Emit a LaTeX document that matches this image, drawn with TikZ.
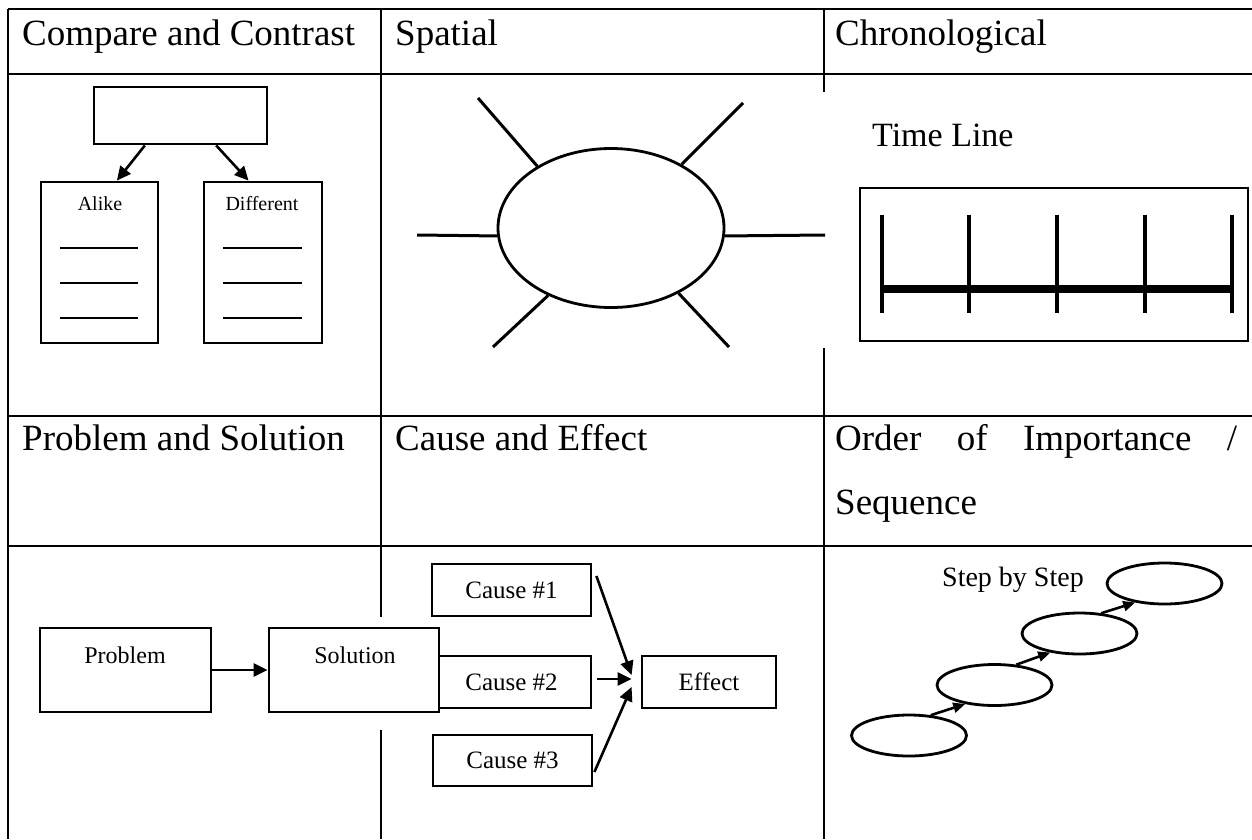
\documentclass[tikz,border=0pt]{standalone}
\usepackage{fontspec}
\setmainfont{Liberation Serif}
\usetikzlibrary{arrows.meta,positioning,shapes.geometric}
\newcommand{\headfont}{\fontsize{37}{64}\selectfont}
\newcommand{\smallfont}[1]{\fontsize{#1}{#1}\selectfont}
\tikzset{
  >={Triangle[length=14pt,width=13pt]},
  grid/.style  ={line width=2.2pt},
  box/.style   ={rectangle, draw, line width=2.8pt, inner sep=0pt},
  oval/.style  ={ellipse, draw, line width=2.8pt, inner sep=0pt},
  head/.style  ={anchor=base west, inner sep=0pt, font=\headfont},
  lbl/.style   ={anchor=base, inner sep=0pt},
  con/.style   ={->, draw, line width=2.6pt},
  stepcon/.style={-{Triangle[length=12pt,width=10pt]}, draw, line width=2.6pt},
  ray/.style   ={draw, line width=3pt},
  rule/.style  ={draw, line width=2.2pt},
}
\begin{document}
\begin{tikzpicture}[x=1pt,y=-1pt]
\useasboundingbox (0,0) rectangle (1252,839);
% table
\draw[grid] (8,9) -- (1252,9);
\draw[grid] (8,74) -- (1252,74);
\draw[grid] (8,416) -- (1252,416);
\draw[grid] (8,546) -- (1252,546);
\draw[grid] (8,9) -- (8,839);
\draw[grid] (381,9) -- (381,617);
\draw[grid] (381,730) -- (381,839);
\draw[grid] (824,9) -- (824,92);
\draw[grid] (824,348) -- (824,839);

\node[head] (hcc) at (22,45)   {Compare and Contrast};
\node[head] (hsp) at (395,45)  {Spatial};
\node[head] (hch) at (835,45)  {Chronological};
\node[head] (hps) at (22,450)  {Problem and Solution};
\node[head] (hce) at (395,450) {Cause and Effect};
\node[head] (hoi) at (835,450) {\makebox[402pt][s]{Order of Importance /}};
\node[head] (hsq) at (835,514) {Sequence};

% compare and contrast
\node[box, minimum width=173pt, minimum height=57pt]  (top)   at (180.5,115.5) {};
\node[box, minimum width=117pt, minimum height=161pt] (alike) at (99.5,262.5) {};
\node[box, minimum width=118pt, minimum height=161pt] (diff)  at (263,262.5) {};
\node[lbl, font=\smallfont{20}] (talike) at (100,210) {Alike};
\node[lbl, font=\smallfont{20}] (tdiff)  at (262,210) {Different};
\draw[con] (top.220) -- (alike.78);
\draw[con] (top.320) -- (diff.100);
\draw[rule] (60,248) -- (138,248);
\draw[rule] (60,283) -- (138,283);
\draw[rule] (60,318) -- (138,318);
\draw[rule] (223,248) -- (302,248);
\draw[rule] (223,283) -- (302,283);
\draw[rule] (223,318) -- (302,318);

% spatial
\node[oval, minimum width=226pt, minimum height=159pt] (hub) at (611,228) {};
\coordinate (rul) at (478,98);
\coordinate (rur) at (743,103);
\coordinate (rl)  at (417,235);
\coordinate (rr)  at (825,235);
\coordinate (rll) at (493,347);
\coordinate (rlr) at (729,347);
\draw[ray] (hub.140) -- (rul);
\draw[ray] (hub.42)  -- (rur);
\draw[ray] (hub.184) -- (rl);
\draw[ray] (hub.-4)  -- (rr);
\draw[ray] (hub.227) -- (rll);
\draw[ray] (hub.-44) -- (rlr);

% chronological
\node[anchor=base west, inner sep=0pt, font=\smallfont{34}] (ttl) at (872,146) {Time Line};
\node[box, minimum width=388pt, minimum height=153pt] (tbox) at (1054,264.5) {};
\draw[line width=8pt] (882,289) -- (1232,289);
\draw[line width=3.2pt] (882,215) -- (882,313);
\draw[line width=3.2pt] (969,215) -- (969,313);
\draw[line width=3.2pt] (1057,215) -- (1057,313);
\draw[line width=3.2pt] (1145,215) -- (1145,313);
\draw[line width=3.2pt] (1232,215) -- (1232,313);

% cause and effect
\node[box, minimum width=159pt, minimum height=52pt, font=\smallfont{25}] (c1)  at (511.5,590) {Cause \#1};
\node[box, minimum width=159pt, minimum height=52pt, font=\smallfont{25}] (c2)  at (511.5,682) {Cause \#2};
\node[box, minimum width=159pt, minimum height=51pt, font=\smallfont{25}] (c3)  at (512.5,760.5) {Cause \#3};
\node[box, minimum width=134pt, minimum height=52pt, font=\smallfont{25}] (eff) at (709,682) {Effect};
\draw[con] ([xshift=4pt,yshift=14pt]c1.east) -- ([xshift=-9pt,yshift=7pt]eff.west);
\draw[con] ([xshift=5pt,yshift=3pt]c2.east) -- ([xshift=-9pt,yshift=3pt]eff.west);
\draw[con] ([xshift=1pt,yshift=-11.5pt]c3.east) -- ([xshift=-9pt,yshift=-5pt]eff.west);

% problem and solution
\node[box, minimum width=171pt, minimum height=84pt] (prob) at (125.5,670) {};
\node[box, fill=white, minimum width=170pt, minimum height=84pt] (sol) at (354,670) {};
\node[lbl, font=\smallfont{24}] (tprob) at (125,663) {Problem};
\node[lbl, font=\smallfont{24}] (tsol)  at (355,663) {Solution};
\draw[con] (prob) -- (sol);

% order of importance
\node[anchor=base west, inner sep=0pt, font=\smallfont{28}] (tstep) at (942,586) {Step by Step};
\node[oval, minimum width=115pt, minimum height=41pt] (e1) at (909,735.5) {};
\node[oval, minimum width=115pt, minimum height=41pt] (e2) at (994.5,685) {};
\node[oval, minimum width=115pt, minimum height=41pt] (e3) at (1079.5,633.5) {};
\node[oval, minimum width=115pt, minimum height=41pt] (e4) at (1164.5,583.5) {};
\draw[stepcon] (e1.43) -- (e2.213);
\draw[stepcon] (e2.43) -- (e3.213);
\draw[stepcon] (e3.43) -- (e4.213);
\end{tikzpicture}
\end{document}
